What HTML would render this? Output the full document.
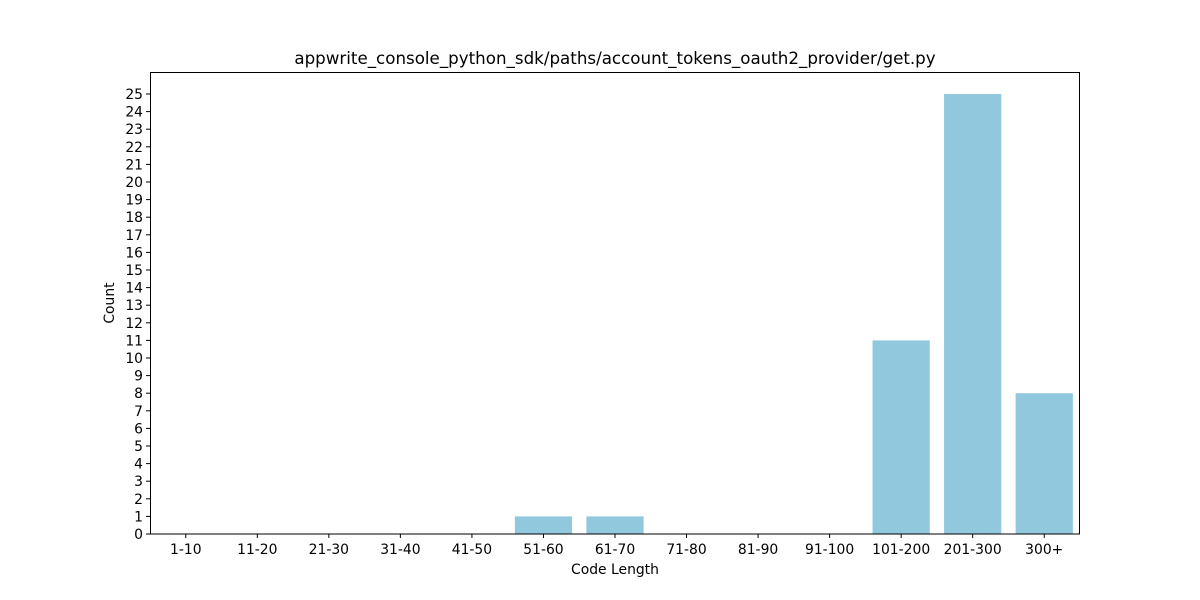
<!DOCTYPE html>
<html><head><meta charset="utf-8"><style>
body{margin:0;background:#fff;}
svg{display:block;font-family:"DejaVu Sans","Liberation Sans",sans-serif;}
</style></head><body>
<svg id="chart" width="1200" height="600">
<text x="615" y="64" text-anchor="middle" font-size="16.7">appwrite_console_python_sdk/paths/account_tokens_oauth2_provider/get.py</text>
<g id="bars"></g>
<g id="xticks"></g>
<g id="yticks"></g>
<rect x="150.5" y="72.5" width="929" height="461.5" fill="none" stroke="#000" stroke-width="1"/>
<text x="615" y="574" text-anchor="middle" font-size="13.9">Code Length</text>
<text x="114" y="303" text-anchor="middle" font-size="13.9" transform="rotate(-90 114 303)">Count</text>
</svg>
<script>
const categories=["1-10","11-20","21-30","31-40","41-50","51-60","61-70","71-80","81-90","91-100","101-200","201-300","300+"];
const counts=[0,0,0,0,0,1,1,0,0,0,11,25,8];
const yTicks=[0,1,2,3,4,5,6,7,8,9,10,11,12,13,14,15,16,17,18,19,20,21,22,23,24,25];
const NS="http://www.w3.org/2000/svg";
const L=150,R=1080,B=534,T=72,yMax=26.25;
const band=(R-L)/categories.length;
const x=i=>L+band*(i+0.5);
const y=v=>B-(B-T)*v/yMax;
const bars=document.getElementById('bars'),xt=document.getElementById('xticks'),yt=document.getElementById('yticks');
function mk(t,a){const e=document.createElementNS(NS,t);for(const k in a)e.setAttribute(k,a[k]);return e;}
categories.forEach((c,i)=>{
  const bw=band*0.8;
  const r=mk('rect',{x:x(i)-bw/2,y:y(counts[i]),width:bw,height:B-y(counts[i]),fill:'#92c8de'});
  
  
  bars.appendChild(r);
  const tk=mk('line',{x1:x(i),x2:x(i),y1:B,y2:B+4,stroke:'#000'});
  
  
  xt.appendChild(tk);
  const t=mk('text',{x:x(i),y:B+20,'text-anchor':'middle','font-size':'13.9'});
  t.textContent=c;
  
  
  xt.appendChild(t);
});
yTicks.forEach(v=>{
  const tk=mk('line',{x1:L-4,x2:L,y1:y(v),y2:y(v),stroke:'#000'});
  
  
  yt.appendChild(tk);
  const t=mk('text',{x:L-7,y:y(v)+5,'text-anchor':'end','font-size':'13.9'});
  t.textContent=v;
  
  
  yt.appendChild(t);
});
</script>
</body></html>
